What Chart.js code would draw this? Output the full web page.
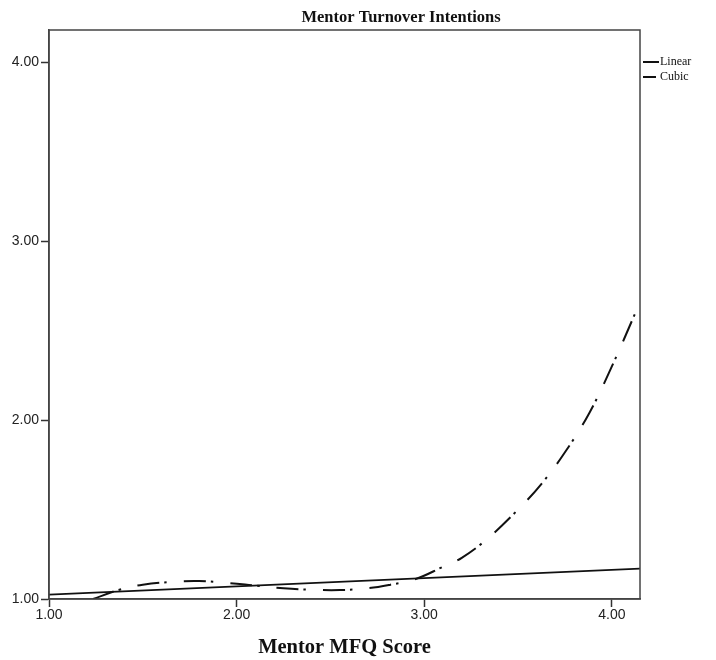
<!DOCTYPE html>
<html>
<head>
<meta charset="utf-8">
<script src="https://cdn.jsdelivr.net/npm/chart.js@4"></script>
<style>
  html, body { margin: 0; padding: 0; background: #fff; }
  #wrap { width: 716px; height: 660px; }
</style>
</head>
<body>
<div id="wrap"><canvas id="chart" width="716" height="660"></canvas></div>
<script>
// values
const linearX = [1.00, 4.15];
const linearY = [1.025, 1.17];

const cubicX = [1.235, 1.37, 1.50, 1.65, 1.80, 1.95, 2.10, 2.25, 2.40, 2.55, 2.70, 2.82, 2.95,
                3.10, 3.20, 3.34, 3.50, 3.63, 3.75, 3.88, 4.00, 4.13];
const cubicY = [1.00, 1.05, 1.08, 1.095, 1.10, 1.09, 1.075, 1.06, 1.052, 1.05, 1.06, 1.08, 1.11,
                1.18, 1.23, 1.34, 1.50, 1.65, 1.82, 2.04, 2.30, 2.61];

const xTicks = [1, 2, 3, 4];
const yTicks = [1, 2, 3, 4];

const toPts = (xs, ys) => xs.map((x, i) => ({ x: x, y: ys[i] }));

const serif = "'Liberation Serif', 'Times New Roman', serif";
const sans = "'Liberation Sans', Arial, sans-serif";

// frame, title and legend in the SPSS style
const extras = {
  id: "extras",
  afterDraw(chart) {
    const c = chart.ctx;
    const a = chart.chartArea;
    c.save();
    c.strokeStyle = "#444";
    c.lineWidth = 1.5;
    c.strokeRect(a.left, a.top, a.right - a.left, a.bottom - a.top);

    c.fillStyle = "#111";
    c.font = "bold 16.5px " + serif;
    c.textAlign = "center";
    c.textBaseline = "middle";
    c.fillText("Mentor Turnover Intentions", 401, 18);

    c.textAlign = "left";
    c.font = "12px " + serif;
    c.strokeStyle = "#111";
    c.lineWidth = 2;
    c.beginPath();
    c.moveTo(a.right + 3, 62); c.lineTo(a.right + 19, 62);
    c.stroke();
    c.fillText("Linear", a.right + 20, 62);
    c.beginPath();
    c.moveTo(a.right + 3, 77); c.lineTo(a.right + 16, 77);
    c.stroke();
    c.fillText("Cubic", a.right + 20, 77);
    c.restore();
  }
};

new Chart(document.getElementById("chart").getContext("2d"), {
  type: "scatter",
  data: {
    datasets: [
      {
        label: "Linear",
        data: toPts(linearX, linearY),
        showLine: true,
        borderColor: "#111",
        borderWidth: 1.8,
        pointRadius: 0
      },
      {
        label: "Cubic",
        data: toPts(cubicX, cubicY),
        showLine: true,
        borderColor: "#111",
        borderWidth: 2,
        borderDash: [22, 5, 2.5, 17],
        tension: 0.4,
        pointRadius: 0
      }
    ]
  },
  options: {
    responsive: false,
    animation: false,
    layout: { padding: { left: 0, right: 76, top: 30, bottom: 0 } },
    plugins: {
      legend: { display: false },
      title: { display: false },
      tooltip: { enabled: false }
    },
    scales: {
      x: {
        type: "linear",
        min: 1,
        max: 4.15,
        afterFit(s) { s.height = 61; },
        afterBuildTicks(s) { s.ticks = xTicks.map(v => ({ value: v })); },
        grid: { drawOnChartArea: false, drawTicks: true, tickLength: 8, color: "#333", tickWidth: 1.5 },
        border: { display: true, color: "#444", width: 1.5 },
        ticks: {
          color: "#222",
          font: { family: sans, size: 14 },
          padding: 0,
          maxRotation: 0,
          callback: v => v.toFixed(2)
        },
        title: {
          display: true,
          text: "Mentor MFQ Score",
          color: "#111",
          font: { family: serif, size: 20.5, weight: "bold" },
          padding: { top: 12, bottom: 0 }
        }
      },
      y: {
        type: "linear",
        min: 1,
        max: 4.18,
        afterFit(s) { s.width = 49; },
        afterBuildTicks(s) { s.ticks = yTicks.map(v => ({ value: v })); },
        grid: { drawOnChartArea: false, drawTicks: true, tickLength: 8, color: "#333", tickWidth: 1.5 },
        border: { display: true, color: "#444", width: 1.5 },
        ticks: {
          color: "#222",
          font: { family: sans, size: 14 },
          padding: 2,
          callback: v => v.toFixed(2)
        }
      }
    }
  },
  plugins: [extras]
});
</script>
</body>
</html>
